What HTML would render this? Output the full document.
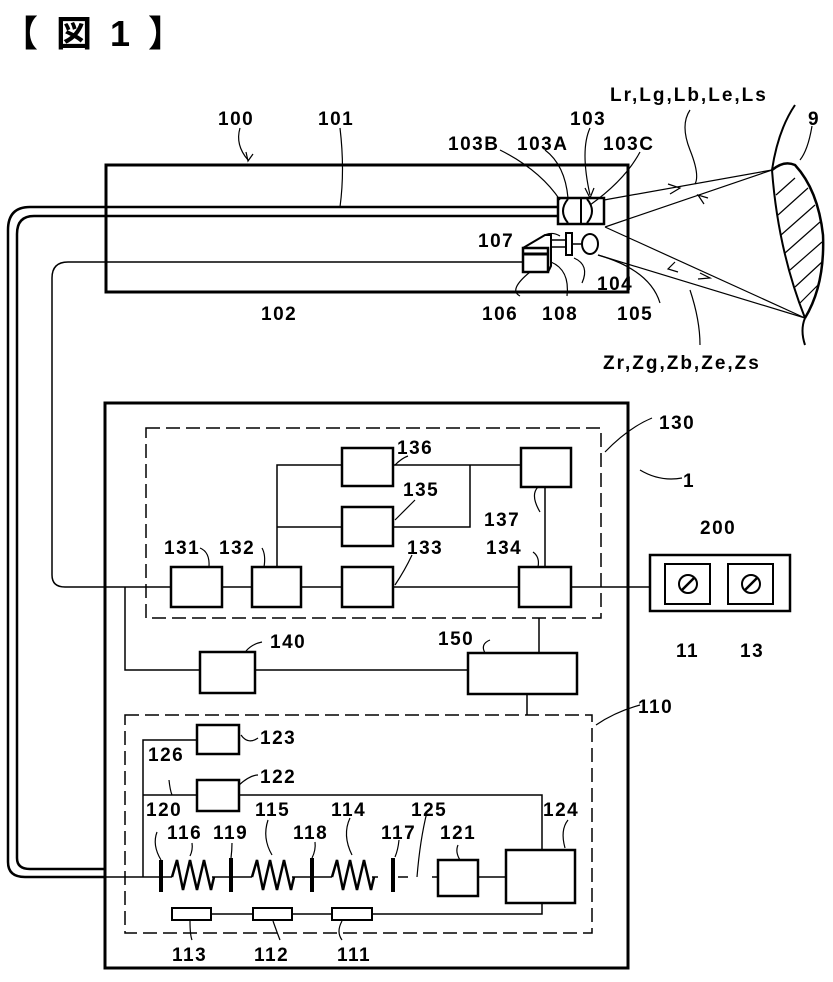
<!DOCTYPE html>
<html><head><meta charset="utf-8"><style>
html,body{margin:0;padding:0;background:#fff;}
svg{display:block;}
text{font-family:"Liberation Sans","Noto Sans CJK JP",sans-serif;font-weight:bold;fill:#000;font-size:19px;letter-spacing:1.5px;}
</style></head><body>
<svg width="833" height="982" viewBox="0 0 833 982" xmlns="http://www.w3.org/2000/svg">
<g fill="none" stroke="#000">
<text x="2" y="46" style="font-size:36px;letter-spacing:4px" stroke="none">【 図 1 】</text>
<!-- probe 100 -->
<rect x="106" y="165" width="522" height="127" stroke-width="3"/>
<!-- cable 101 double -->
<path d="M558 207 H30 Q8 207 8 230 V862 Q8 877 25 877 H105" stroke-width="2.5"/>
<path d="M558 216 H34 Q17 216 17 234 V858 Q17 869 30 869 H105" stroke-width="2.5"/>
<!-- line 102 -->
<path d="M523 262 H68 Q52 262 52 278 V575 Q52 587 65 587 H105" stroke-width="1.5"/>
<!-- lens assembly -->
<rect x="558" y="198" width="46" height="26" stroke-width="2.5"/>
<line x1="581" y1="198" x2="581" y2="224" stroke-width="2"/>
<path d="M568 199 Q558 211 568 223" stroke-width="2"/>
<path d="M587 199 Q597 211 587 223" stroke-width="2"/>
<!-- 106/107 -->
<rect x="523" y="248" width="25" height="24" stroke-width="2.5"/>
<line x1="523" y1="254" x2="548" y2="254" stroke-width="3"/>
<path d="M523 248 L545 235 H551 V266 L548 272" stroke-width="2"/>
<line x1="551" y1="240" x2="566" y2="240" stroke-width="1.5"/>
<line x1="551" y1="247" x2="566" y2="247" stroke-width="1.5"/>
<rect x="566" y="233" width="6" height="22" stroke-width="2"/>
<line x1="572" y1="244" x2="583" y2="244" stroke-width="1.5"/>
<ellipse cx="590" cy="244" rx="8" ry="10" stroke-width="2"/>
<!-- rays -->
<g stroke-width="1.2">
<line x1="604" y1="200" x2="772" y2="170"/>
<line x1="772" y1="170" x2="605" y2="227"/>
<line x1="605" y1="227" x2="805" y2="318"/>
<line x1="805" y1="318" x2="598" y2="255"/>
<path d="M668 184 l12 4 -10 6"/>
<path d="M708 198 l-10 -3 6 9"/>
<path d="M700 273 l10 5 -12 1"/>
<path d="M678 272 l-10 -3 7 -7"/>
</g>
<!-- target 9 -->
<path d="M795 105 Q778 130 772 170 Q778 250 805 318 Q800 330 805 345" stroke-width="2"/>
<path d="M772 170 Q784 160 795 165 Q818 190 823 235 Q825 285 805 318" stroke-width="2.5"/>
<g stroke-width="1.2">
<line x1="776" y1="195" x2="795" y2="178"/><line x1="778" y1="215" x2="808" y2="188"/>
<line x1="781" y1="235" x2="815" y2="205"/><line x1="785" y1="253" x2="820" y2="222"/>
<line x1="790" y1="270" x2="822" y2="242"/><line x1="795" y1="287" x2="822" y2="262"/>
<line x1="800" y1="303" x2="818" y2="285"/>
</g>
<!-- leaders probe -->
<g stroke-width="1.2">
<path d="M240 128 Q235 145 248 160"/><path d="M246 152 l2 9 5 -7"/>
<path d="M340 128 Q345 170 340 207"/>
<path d="M500 150 Q540 170 560 200"/>
<path d="M545 150 Q565 165 568 198"/>
<path d="M590 128 Q580 150 590 195"/><path d="M585 188 l5 10 4 -10"/>
<path d="M640 152 Q625 180 590 205"/>
<path d="M690 110 Q680 125 690 150 Q700 175 695 184"/>
<path d="M540 238 Q550 230 560 236"/>
<path d="M582 283 Q590 265 574 258"/>
<path d="M660 303 Q650 270 598 255"/>
<path d="M520 296 Q508 290 530 272"/>
<path d="M567 296 Q570 270 551 262"/>
<path d="M700 345 Q700 320 690 290"/>
<path d="M812 126 Q808 150 800 160"/>
</g>
<!-- main box 1 -->
<rect x="105" y="403" width="523" height="565" stroke-width="3"/>
<path d="M682 478 Q660 482 640 470" stroke-width="1.2"/>
<!-- dashed 130 -->
<rect x="146" y="428" width="455" height="190" stroke-width="1.5" stroke-dasharray="14 6"/>
<path d="M652 418 Q628 428 605 452" stroke-width="1.2"/>
<g stroke-width="2.5">
<rect x="171" y="567" width="51" height="40"/>
<rect x="252" y="567" width="49" height="40"/>
<rect x="342" y="567" width="51" height="40"/>
<rect x="519" y="567" width="52" height="40"/>
<rect x="342" y="448" width="51" height="38"/>
<rect x="521" y="448" width="50" height="39"/>
<rect x="342" y="507" width="51" height="39"/>
<rect x="200" y="652" width="55" height="41"/>
<rect x="468" y="653" width="109" height="41"/>
</g>
<g stroke-width="1.5">
<line x1="105" y1="587" x2="171" y2="587"/>
<line x1="222" y1="587" x2="252" y2="587"/>
<line x1="301" y1="587" x2="342" y2="587"/>
<line x1="393" y1="587" x2="519" y2="587"/>
<line x1="571" y1="587" x2="650" y2="587"/>
<path d="M277 567 V465 H342"/>
<line x1="277" y1="527" x2="342" y2="527"/>
<path d="M393 465 H521"/>
<path d="M470 465 V527 H393"/>
<line x1="545" y1="487" x2="545" y2="567"/>
<path d="M125 587 V670 H200"/>
<line x1="255" y1="670" x2="468" y2="670"/>
<line x1="539" y1="618" x2="539" y2="653"/>
<line x1="527" y1="694" x2="527" y2="715"/>
</g>
<!-- leaders 130 group -->
<g stroke-width="1.2">
<path d="M200 548 Q210 552 209 567"/>
<path d="M262 548 Q266 555 264 567"/>
<path d="M395 585 Q405 570 412 555"/>
<path d="M395 520 Q405 510 415 500"/>
<path d="M395 465 Q402 458 408 456"/>
<path d="M540 512 Q530 495 538 487"/>
<path d="M533 552 Q540 557 538 567"/>
<path d="M246 651 Q252 644 262 642"/>
<path d="M485 653 Q480 644 490 640"/>
</g>
<!-- box 200 -->
<rect x="650" y="555" width="140" height="56" stroke-width="2.5"/>
<rect x="665" y="564" width="45" height="40" stroke-width="2"/>
<rect x="728" y="564" width="45" height="40" stroke-width="2"/>
<circle cx="688" cy="584" r="9" stroke-width="2"/>
<circle cx="751" cy="584" r="9" stroke-width="2"/>
<line x1="682" y1="590" x2="694" y2="578" stroke-width="2.5"/>
<line x1="745" y1="590" x2="757" y2="578" stroke-width="2.5"/>
<!-- dashed 110 -->
<rect x="125" y="715" width="467" height="218" stroke-width="1.5" stroke-dasharray="14 6"/>
<path d="M640 705 Q615 712 596 725" stroke-width="1.2"/>
<g stroke-width="2.5">
<rect x="197" y="725" width="42" height="29"/>
<rect x="197" y="780" width="42" height="31"/>
<rect x="438" y="860" width="40" height="36"/>
<rect x="506" y="850" width="69" height="53"/>
<rect x="172" y="908" width="39" height="12" stroke-width="2"/>
<rect x="253" y="908" width="39" height="12" stroke-width="2"/>
<rect x="332" y="908" width="40" height="12" stroke-width="2"/>
</g>
<g stroke-width="1.5">
<path d="M143 877 V740 H197"/>
<line x1="143" y1="795" x2="197" y2="795"/>
<path d="M239 795 H542 V850"/>
<line x1="105" y1="877" x2="172" y2="877"/>
<line x1="212" y1="877" x2="252" y2="877"/>
<line x1="292" y1="877" x2="332" y2="877"/>
<line x1="372" y1="877" x2="378" y2="877"/>
<line x1="398" y1="877" x2="408" y2="877"/>
<line x1="432" y1="877" x2="438" y2="877"/>
<line x1="478" y1="877" x2="506" y2="877"/>
<line x1="211" y1="914" x2="253" y2="914"/>
<line x1="292" y1="914" x2="332" y2="914"/>
<path d="M372 914 H542 V903"/>
</g>
<g stroke-width="4">
<line x1="161" y1="860" x2="161" y2="892"/>
<line x1="231" y1="858" x2="231" y2="892"/>
<line x1="312" y1="858" x2="312" y2="892"/>
<line x1="393" y1="858" x2="393" y2="892"/>
</g>
<g stroke-width="2.5">
<path d="M172 877 L177 860 L183 890 L190 860 L197 890 L204 860 L211 890 L214 877"/>
<path d="M252 877 L257 860 L263 890 L270 860 L277 890 L284 860 L291 890 L294 877"/>
<path d="M332 877 L337 860 L343 890 L350 860 L357 890 L364 860 L371 890 L374 877"/>
</g>
<g stroke-width="1.2">
<path d="M157 832 Q152 845 161 860"/>
<path d="M192 843 Q193 850 190 856"/>
<path d="M232 843 Q232 850 231 858"/>
<path d="M268 820 Q262 838 272 855"/>
<path d="M315 842 Q316 850 312 858"/>
<path d="M350 818 Q342 835 352 855"/>
<path d="M399 840 Q398 850 395 857"/>
<path d="M427 812 Q420 840 417 877"/>
<path d="M458 845 Q455 852 460 860"/>
<path d="M568 820 Q560 830 565 848"/>
<path d="M169 780 Q170 790 172 795"/>
<path d="M239 785 Q250 775 258 775"/>
<path d="M241 735 Q248 745 258 738"/>
<path d="M190 921 Q190 935 192 940"/>
<path d="M273 921 Q278 935 280 940"/>
<path d="M342 921 Q336 932 342 940"/>
</g>
</g>
<!-- labels -->
<text x="218" y="125">100</text>
<text x="318" y="125">101</text>
<text x="448" y="150">103B</text>
<text x="517" y="150">103A</text>
<text x="570" y="125">103</text>
<text x="603" y="150">103C</text>
<text x="610" y="101" style="letter-spacing:2px">Lr,Lg,Lb,Le,Ls</text>
<text x="808" y="125">9</text>
<text x="478" y="247">107</text>
<text x="597" y="290">104</text>
<text x="261" y="320">102</text>
<text x="482" y="320">106</text>
<text x="542" y="320">108</text>
<text x="617" y="320">105</text>
<text x="603" y="369" style="letter-spacing:2px">Zr,Zg,Zb,Ze,Zs</text>
<text x="659" y="429">130</text>
<text x="683" y="487">1</text>
<text x="397" y="454">136</text>
<text x="403" y="496">135</text>
<text x="484" y="526">137</text>
<text x="164" y="554">131</text>
<text x="219" y="554">132</text>
<text x="407" y="554">133</text>
<text x="486" y="554">134</text>
<text x="700" y="534">200</text>
<text x="676" y="657">11</text>
<text x="740" y="657">13</text>
<text x="270" y="648">140</text>
<text x="438" y="645">150</text>
<text x="638" y="713">110</text>
<text x="260" y="744">123</text>
<text x="148" y="761">126</text>
<text x="260" y="783">122</text>
<text x="146" y="816">120</text>
<text x="167" y="839">116</text>
<text x="213" y="839">119</text>
<text x="255" y="816">115</text>
<text x="331" y="816">114</text>
<text x="293" y="839">118</text>
<text x="381" y="839">117</text>
<text x="411" y="816">125</text>
<text x="440" y="839">121</text>
<text x="543" y="816">124</text>
<text x="172" y="961">113</text>
<text x="254" y="961">112</text>
<text x="337" y="961">111</text>
</svg>
</body></html>
